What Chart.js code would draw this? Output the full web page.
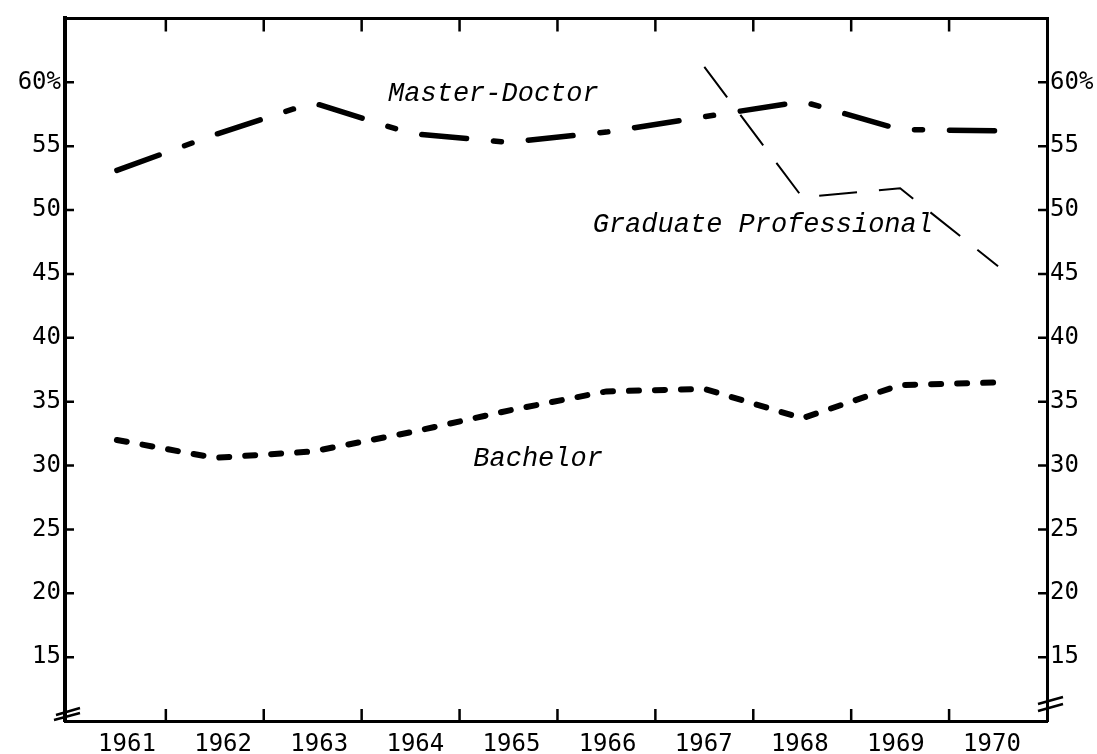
<!DOCTYPE html>
<html>
<head>
<meta charset="utf-8">
<script src="https://cdn.jsdelivr.net/npm/chart.js@4.4.1/dist/chart.umd.min.js"></script>
<style>
  html, body { margin:0; padding:0; background:#fff; }
  canvas { display:block; }
</style>
</head>
<body>
<canvas id="chart" width="1097" height="754"></canvas>
<script>
// values (percent)
const years = [1961, 1962, 1963, 1964, 1965, 1966, 1967, 1968, 1969, 1970];
const masterDoctor = [53.1, 55.9, 58.4, 56.0, 55.3, 56.1, 57.3, 58.5, 56.3, 56.2];
const bachelor     = [32.0, 30.6, 31.1, 32.6, 34.3, 35.8, 36.0, 33.7, 36.3, 36.5];
const gradProf     = [null, null, null, null, null, null, 61.2, 51.0, 51.7, 45.6];
const yTicks = [15, 20, 25, 30, 35, 40, 45, 50, 55, 60];

// series names written on the plot, anchored in data units
const notes = [
  {text:'Master-Doctor', x:1963.77, y:58.5},
  {text:'Graduate Professional', x:1965.86, y:48.3},
  {text:'Bachelor', x:1964.64, y:30.0}
];

const pts = arr => years.map((yr,i) => ({x:yr, y:arr[i]}));
const tickFont = {family:'"DejaVu Sans Mono"', size:24};

// inward tick marks, axis breaks and the italic series names
const decor = {
  id:'decor',
  afterDraw(chart){
    const {ctx, chartArea:a, scales} = chart;
    const x = scales.x, y = scales.y;
    ctx.save();
    ctx.strokeStyle = '#000';
    ctx.lineWidth = 2.5;
    ctx.beginPath();
    years.slice(1).forEach(yr => {
      const px = x.getPixelForValue(yr - 0.5);
      ctx.moveTo(px, a.bottom); ctx.lineTo(px, a.bottom - 12);
      ctx.moveTo(px, a.top); ctx.lineTo(px, a.top + 13);
    });
    yTicks.forEach(v => {
      const py = y.getPixelForValue(v);
      ctx.moveTo(a.left, py); ctx.lineTo(a.left + 9, py);
      ctx.moveTo(a.right, py); ctx.lineTo(a.right - 9, py);
    });
    ctx.stroke();

    // axis break marks
    ctx.beginPath();
    ctx.moveTo(a.left - 9, a.bottom - 6); ctx.lineTo(a.left + 15, a.bottom - 13);
    ctx.moveTo(a.left - 11, a.bottom - 1); ctx.lineTo(a.left + 15, a.bottom - 8);
    ctx.moveTo(a.right - 9, a.bottom - 17); ctx.lineTo(a.right + 16, a.bottom - 24);
    ctx.moveTo(a.right - 9, a.bottom - 10); ctx.lineTo(a.right + 16, a.bottom - 17);
    ctx.stroke();

    ctx.fillStyle = '#000';
    ctx.font = 'italic 27px "Liberation Mono"';
    ctx.textBaseline = 'alphabetic';
    ctx.textAlign = 'left';
    notes.forEach(n => {
      ctx.fillText(n.text, x.getPixelForValue(n.x), y.getPixelForValue(n.y));
    });
    ctx.restore();
  }
};

const yScale = (pos, w) => ({
  type:'linear', position:pos, min:10, max:65,
  afterBuildTicks: s => { s.ticks = yTicks.map(v => ({value:v})); },
  afterFit: s => { s.width = w; },
  grid:{drawOnChartArea:false, drawTicks:false},
  border:{display:true, color:'#000', width:pos === 'left' ? 4 : 3},
  ticks:{color:'#000', font:tickFont, padding:pos === 'left' ? 4 : 3,
    callback: v => v === 60 ? '60%' : String(v)}
});

new Chart(document.getElementById('chart').getContext('2d'), {
  type:'line',
  data:{datasets:[
    {label:'Master-Doctor', data:pts(masterDoctor), borderColor:'#000', borderWidth:5.5,
     borderDash:[45, 27, 8, 27], borderCapStyle:'round', pointRadius:0, tension:0},
    {label:'Bachelor', data:pts(bachelor), borderColor:'#000', borderWidth:6,
     borderDash:[10, 16], borderCapStyle:'round', pointRadius:0, tension:0},
    {label:'Graduate Professional', data:pts(gradProf), borderColor:'#000', borderWidth:2,
     borderDash:[38, 22], pointRadius:0, tension:0, spanGaps:false}
  ]},
  options:{
    responsive:false, animation:false,
    layout:{padding:{top:15, left:0, right:0, bottom:0}},
    plugins:{legend:{display:false}, tooltip:{enabled:false}},
    scales:{
      // plotting axis (hidden); the year labels sit on their own, slightly narrower axis
      x:{type:'linear', display:false, min:1960.47, max:1970.5},
      xLab:{type:'linear', position:'bottom', min:1960.355, max:1970.572,
        afterBuildTicks: s => { s.ticks = years.map(v => ({value:v})); },
        afterFit: s => { s.height = 33; },
        grid:{drawOnChartArea:false, drawTicks:false},
        border:{display:true, color:'#000', width:3},
        ticks:{color:'#000', font:tickFont, padding:9, maxRotation:0, autoSkip:false,
          callback: v => String(v)}},
      xTop:{type:'linear', position:'top', min:1960.47, max:1970.5,
        afterFit: s => { s.height = 0; },
        grid:{drawOnChartArea:false, drawTicks:false},
        border:{display:true, color:'#000', width:3},
        ticks:{display:false}},
      y:yScale('left', 65),
      y2:yScale('right', 50)
    }
  },
  plugins:[decor]
});
</script>
</body>
</html>
